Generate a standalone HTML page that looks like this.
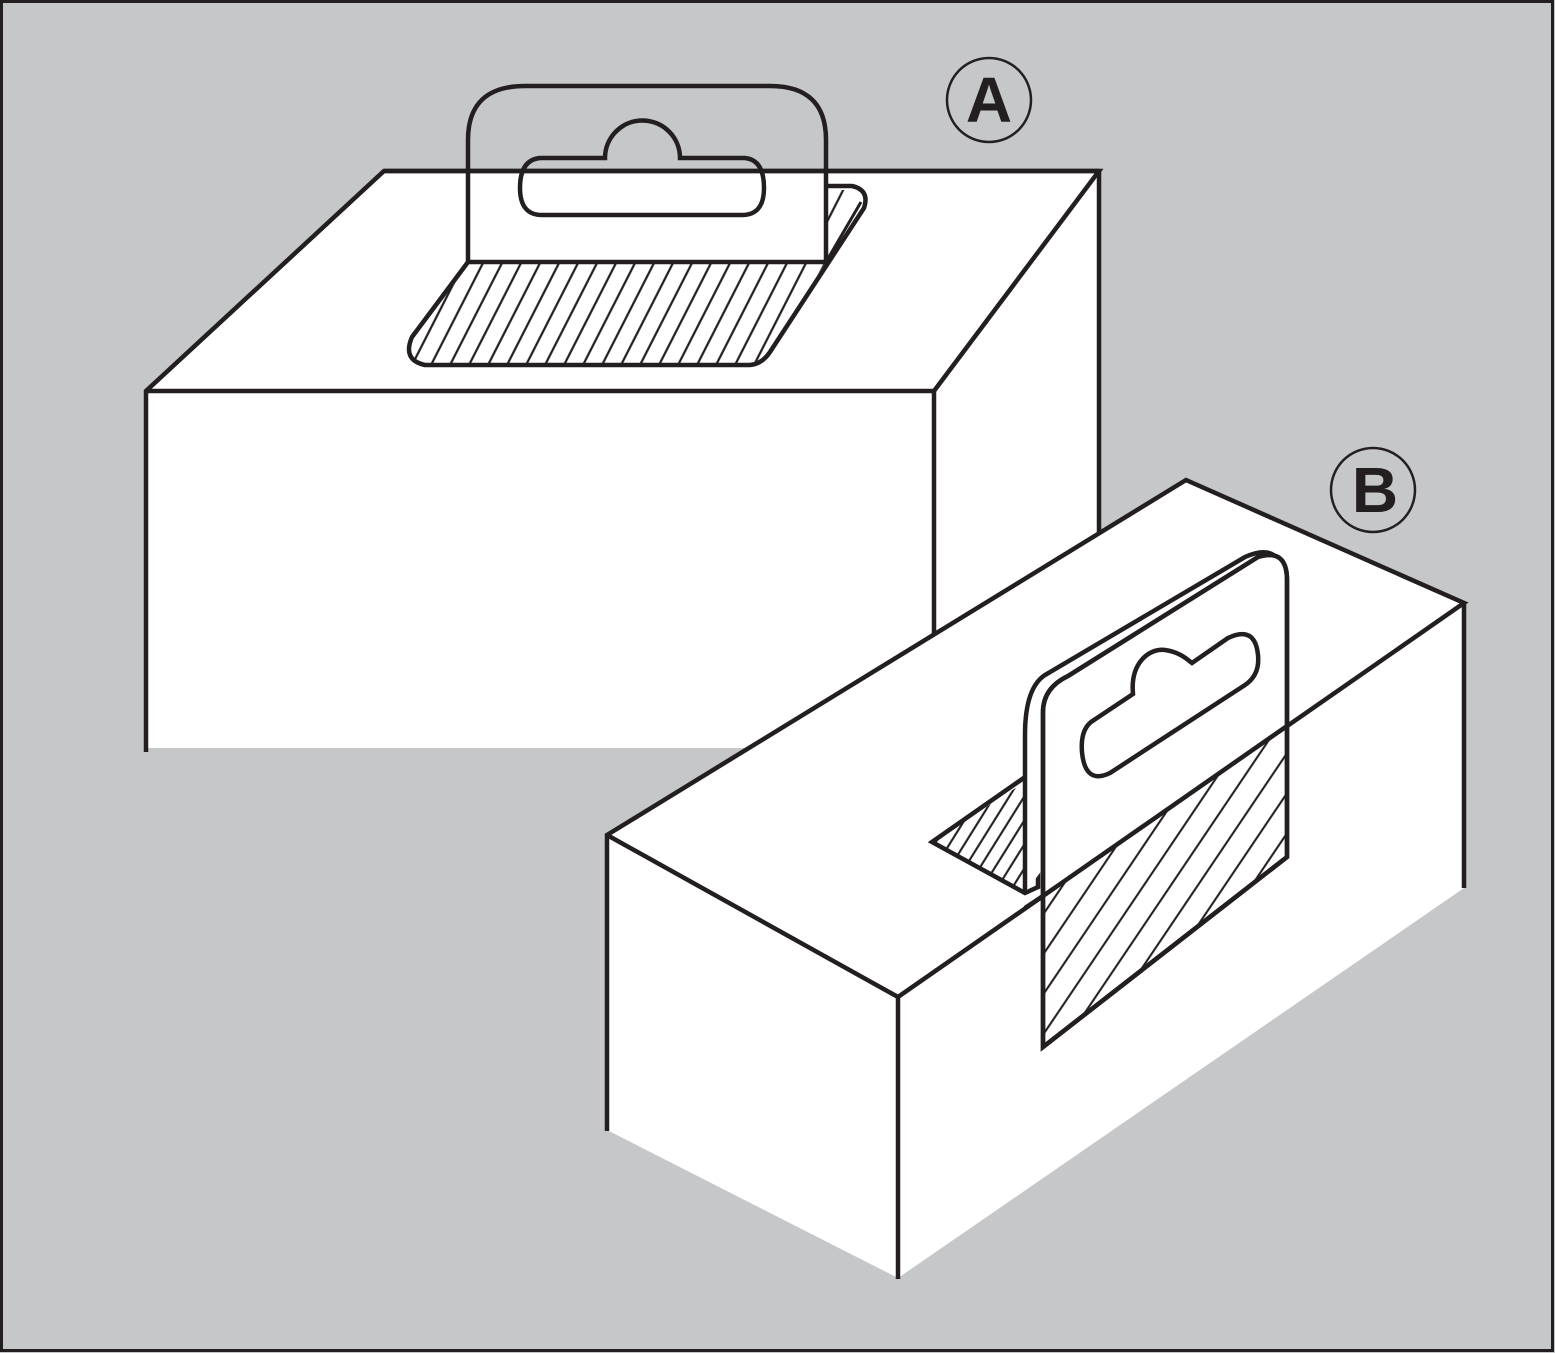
<!DOCTYPE html>
<html><head><meta charset="utf-8"><style>
html,body{margin:0;padding:0;background:#c6c7c9}
svg{display:block}
</style></head><body>
<svg width="1555" height="1353" viewBox="0 0 1555 1353" xmlns="http://www.w3.org/2000/svg">
<defs>
<pattern id="hA" patternUnits="userSpaceOnUse" width="19" height="200" patternTransform="skewX(-27)">
<line x1="9" y1="0" x2="9" y2="200" stroke="#231f20" stroke-width="2.5"/>
</pattern>
<pattern id="hB" patternUnits="userSpaceOnUse" width="27" height="400" patternTransform="skewX(-34)">
<line x1="13" y1="0" x2="13" y2="400" stroke="#231f20" stroke-width="2.5"/>
</pattern>
<pattern id="hT" patternUnits="userSpaceOnUse" width="15" height="400" patternTransform="skewX(-32)">
<line x1="7" y1="0" x2="7" y2="400" stroke="#231f20" stroke-width="2.5"/>
</pattern>
</defs>
<rect x="1.5" y="1.5" width="1551" height="1349" fill="#c6c7c9" stroke="#231f20" stroke-width="3"/>
<polygon points="384,171 1099,171 1099,540 934,748 146,748 146,391" fill="#fff"/>
<g fill="none" stroke="#231f20" stroke-width="4.5" stroke-linejoin="miter">
<polyline points="146,752 146,391 384,171 1099,171 934,391 146,391"/>
<line x1="934" y1="391" x2="934" y2="748"/>
<line x1="1099" y1="171" x2="1099" y2="560"/>
</g>
<path d="M468,262 L826,262 L768,352 Q760,365 745,365 L425,365 Q405,363 410,345 Z" fill="url(#hA)" stroke="none"/>
<path d="M468,262 L412,337 Q402,360 425,365 L750,365 Q762,364 770,352 L864,208 Q870,190 852,186 L827,186" fill="none" stroke="#231f20" stroke-width="4.5"/>
<path d="M827,190 L852,190 L827,232 Z" fill="url(#hA)" stroke="none"/>
<line x1="826" y1="262" x2="861" y2="202" stroke="#231f20" stroke-width="3"/>
<path d="M468,262 V140 Q468,86 525,86 H770 Q826,86 826,140 V262 Z" fill="none" stroke="#231f20" stroke-width="4.5"/>
<path d="M540,158 H605 A37.5,37.5 0 0 1 680,158 H745 Q764,160 764,188 Q764,215 742,215 H542 Q520,215 520,188 Q520,160 540,158 Z" fill="none" stroke="#231f20" stroke-width="4.5"/>
<line x1="384" y1="171" x2="1099" y2="171" stroke="#231f20" stroke-width="4.5"/>
<polygon points="607,835 1186,480 1464,603 1464,888 898,1278 607,1130" fill="#fff"/>
<g fill="none" stroke="#231f20" stroke-width="4.5">
<polyline points="607,1131 607,835 1186,480 1464,603 898,997 607,835"/>
<line x1="898" y1="997" x2="898" y2="1279"/>
<line x1="1464" y1="603" x2="1464" y2="888"/>
</g>
<polygon points="932,842 1025,782 1025,893" fill="url(#hT)" stroke="none"/>
<polygon points="932,842 1038,768 1038,887 1025,893" fill="none" stroke="#231f20" stroke-width="4.5" stroke-linejoin="miter"/>
<path d="M1025,893 V735 Q1025,688 1045,675 L1245,557 Q1265,548 1275,556" fill="#fff" stroke="#231f20" stroke-width="4.5"/>
<path d="M1043,1047 V712 Q1043,688 1068,676 L1258,557 Q1287,548 1287,580 V857 Z" fill="#fff" stroke="#231f20" stroke-width="4.5"/>
<polygon points="1043,896 1287,726 1287,857 1043,1047" fill="url(#hB)"/>
<path d="M1043,1047 V712 Q1043,688 1068,676 L1258,557 Q1287,548 1287,580 V857 Z" fill="none" stroke="#231f20" stroke-width="4.5"/>
<line x1="1043" y1="896" x2="1287" y2="726" stroke="#231f20" stroke-width="4.5"/>
<line x1="1025" y1="908" x2="1043" y2="896" stroke="#231f20" stroke-width="4.5"/>
<path d="M1094,720 L1133,694 C1130,662 1150,648 1165,650 C1180,652 1188,660 1192,663 L1228,638 Q1255,625 1258,655 Q1260,675 1245,685 L1110,773 Q1085,785 1082,752 Q1080,728 1094,720 Z" fill="none" stroke="#231f20" stroke-width="4.5"/>
<circle cx="989" cy="100" r="42" fill="none" stroke="#231f20" stroke-width="2.5"/>
<text x="989" y="122" text-anchor="middle" font-family="Liberation Sans, sans-serif" font-weight="bold" font-size="64" fill="#231f20">A</text>
<circle cx="1373" cy="490" r="42" fill="none" stroke="#231f20" stroke-width="2.5"/>
<text x="1375" y="512" text-anchor="middle" font-family="Liberation Sans, sans-serif" font-weight="bold" font-size="64" fill="#231f20">B</text>
</svg>
</body></html>
